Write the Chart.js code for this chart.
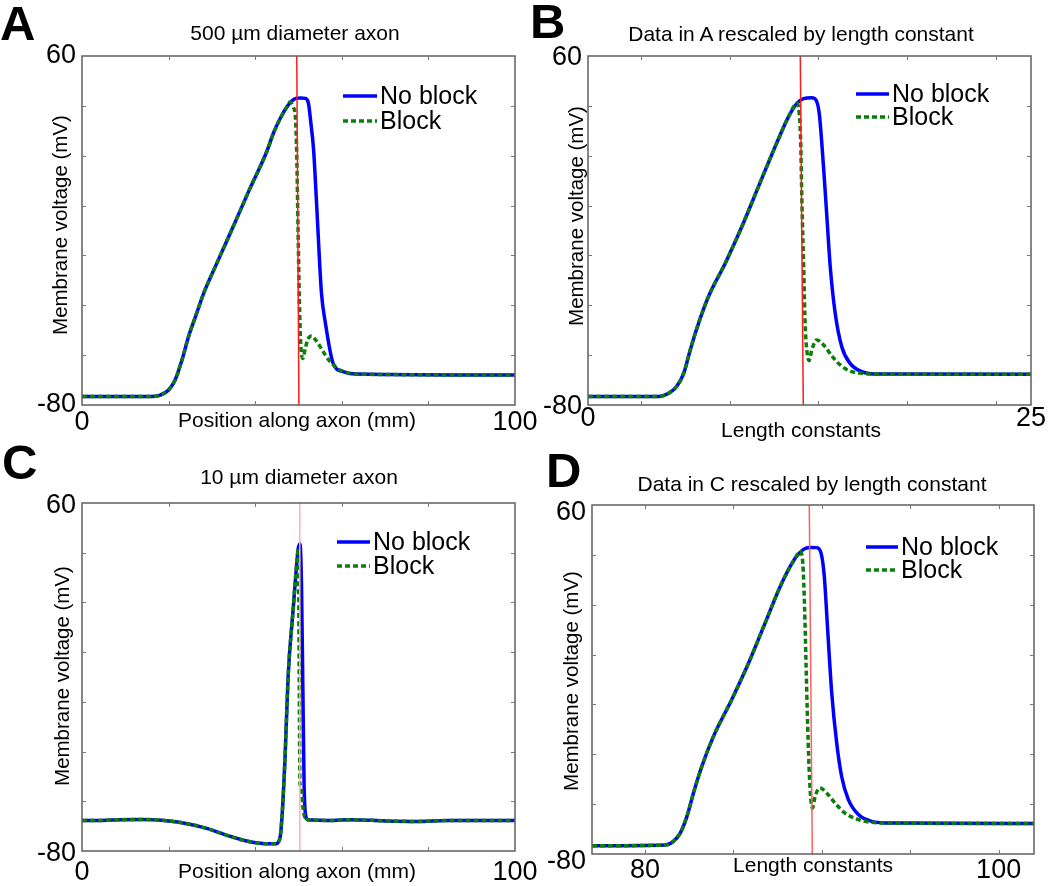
<!DOCTYPE html>
<html>
<head>
<meta charset="utf-8">
<script src="https://cdn.jsdelivr.net/npm/chart.js@4.4.0/dist/chart.umd.min.js"></script>
<style>
  body { margin: 0; background: #fff; }
  #wrap { position: relative; width: 1050px; height: 886px; overflow: hidden; font-family: "Liberation Sans", Arial, sans-serif; }
  #wrap canvas { position: absolute; left: 0; top: 0; }
  .t { position: absolute; white-space: nowrap; font-size: 21px; line-height: 21px; color: #000; }
  .c { transform: translateX(-50%); }
  .r { transform: translate(-50%, -50%) rotate(-90deg); font-size: 20.5px; }
  .p { position: absolute; font-weight: bold; font-size: 49px; line-height: 49px; color: #000; }
</style>
</head>
<body>
<div id="wrap">
  <canvas id="chartA" width="1050" height="886"></canvas>
  <canvas id="chartB" width="1050" height="886"></canvas>
  <canvas id="chartC" width="1050" height="886"></canvas>
  <canvas id="chartD" width="1050" height="886"></canvas>

  <div class="p" style="left:0px;top:-1px;">A</div>
  <div class="p" style="left:530px;top:-3px;">B</div>
  <div class="p" style="left:2px;top:438px;">C</div>
  <div class="p" style="left:546px;top:446px;">D</div>

  <div class="t c" style="left:295px;top:22px;">500 µm diameter axon</div>
  <div class="t c" style="left:801px;top:23px;">Data in A rescaled by length constant</div>
  <div class="t c" style="left:299px;top:466px;">10 µm diameter axon</div>
  <div class="t c" style="left:812px;top:473px;">Data in C rescaled by length constant</div>

  <div class="t c" style="left:297px;top:409px;">Position along axon (mm)</div>
  <div class="t c" style="left:801px;top:419px;">Length constants</div>
  <div class="t c" style="left:297px;top:860px;">Position along axon (mm)</div>
  <div class="t c" style="left:813px;top:854px;">Length constants</div>

  <div class="t r" style="left:59px;top:225px;">Membrane voltage (mV)</div>
  <div class="t r" style="left:575px;top:216px;">Membrane voltage (mV)</div>
  <div class="t r" style="left:61px;top:676px;">Membrane voltage (mV)</div>
  <div class="t r" style="left:570px;top:681px;">Membrane voltage (mV)</div>
</div>

<script>
// y axis is shared by all four panels
const yTicks = [-80, -60, -40, -20, 0, 20, 40, 60];
const yTickLabels = ['-80', '', '', '', '', '', '', '60'];

// A - 500 um axon, position along axon (mm)
const xA_noBlock = [0, 15.8, 18.1, 20, 21.5, 23.1, 24.6, 26.2, 28.1, 31.2, 35, 38.8, 42.7, 44.2, 45.8, 47.3, 48.5, 49.4, 50.5, 51.6, 52.3, 52.8, 53.5, 54.2, 55.3, 56.2, 58.0, 60.3, 63.4, 100];
const vA_noBlock = [-76.6, -76.6, -76.0, -74.0, -70.0, -61.9, -52.6, -44.6, -35.2, -22.9, -8.1, 6.9, 21.8, 29.0, 35.0, 39.5, 42.0, 43.0, 43.2, 43.0, 41.0, 34.0, 22.0, 0.0, -35.0, -47.0, -63.3, -66.6, -67.6, -68.0];
const xA_block = [48.0, 48.8, 49.3, 49.6, 49.9, 50.2, 50.5, 51.0, 51.6, 52.2, 53.0, 54.0, 55.0, 56.2, 57.3, 59.6, 61.9];
const vA_block = [41.5, 39.5, 35, 20, -10, -38, -55, -61.3, -57, -53.5, -52.3, -54.0, -56.6, -60, -62.6, -66, -67.3];
const xA_ticks = [0, 20, 40, 60, 80, 100];
const xA_tickLabels = ['0', '', '', '', '', '100'];
const xA_marker = [49.6, 50.1];
const vA_marker = [60, -80];

// B - same data, length constants
const xB_noBlock = [0, 3.98, 4.55, 5.0, 5.4, 5.77, 6.24, 6.8, 7.74, 8.68, 9.62, 10.56, 11.32, 11.79, 12.16, 12.63, 12.86, 13.05, 13.29, 13.48, 13.67, 13.95, 14.32, 14.79, 15.45, 16.39, 25];
const vB_noBlock = [-76.6, -76.6, -75.3, -72.6, -67.3, -57.9, -47.2, -36.5, -23.2, -8.5, 7.6, 23.6, 35.7, 41.0, 42.9, 43.3, 42.4, 37.0, 15.6, -4.4, -24.5, -43.2, -56.6, -63.3, -66.6, -67.6, -67.7];
const xB_block = [11.79, 11.92, 12.0, 12.07, 12.17, 12.26, 12.37, 12.48, 12.63, 12.91, 13.38, 13.76, 14.23, 14.79, 15.45];
const vB_block = [41, 37, 26.3, 2.2, -24.5, -48.6, -59.3, -62.2, -57.9, -53.9, -56.6, -60.3, -63.9, -66.4, -67.3];
const xB_ticks = [0, 3, 8, 13, 18, 23, 25];
const xB_tickLabels = ['0', '', '', '', '', '', '25'];
const xB_marker = [11.98, 12.15];
const vB_marker = [60, -80];

// C - 10 um axon, position along axon (mm)
const xC_noBlock = [0, 4, 9, 14, 20, 24, 29, 33.5, 38, 42.7, 44.8, 45.3, 45.8, 46.2, 46.9, 47.6, 48.8, 49.6, 49.95, 50.35, 50.7, 51.0, 51.3, 51.7, 52.1, 58, 62, 70, 77, 85, 100];
const vC_noBlock = [-67.7, -67.7, -67.4, -67.3, -67.9, -68.9, -71.0, -73.7, -76.0, -77.1, -77.1, -76.5, -74, -66, -42, -10, 18, 35.8, 41.8, 43.5, 26.4, -13.8, -54, -66.1, -67.4, -67.7, -67.4, -67.9, -68.1, -67.7, -67.7];
const xC_block = [49.95, 50.05, 50.15, 50.25, 50.35, 50.6, 51.0, 51.5];
const vC_block = [41.8, 25, -5, -35, -53, -54, -62, -66.5];
const xC_ticks = [0, 20, 40, 60, 80, 100];
const xC_tickLabels = ['0', '', '', '', '', '100'];
const xC_marker = [50.3, 50.3];
const vC_marker = [60, -80];

// D - data in C, length constants
const xD_noBlock = [77, 81.14, 81.6, 81.99, 82.37, 82.74, 83.21, 83.87, 84.9, 85.85, 86.79, 87.73, 88.49, 88.96, 89.33, 89.71, 89.96, 90.14, 90.33, 90.56, 90.84, 91.12, 91.5, 92.07, 92.82, 93.95, 102];
const vD_noBlock = [-76.7, -76.4, -74.9, -71.6, -64.9, -55.5, -44.9, -32.8, -18.1, -3.5, 12.6, 28.6, 38.6, 42.2, 43.0, 42.9, 40.6, 31.3, 9.9, -15.5, -35.5, -48.9, -58.2, -64.2, -66.9, -67.6, -67.8];
const xD_block = [88.77, 88.9, 89.0, 89.1, 89.2, 89.3, 89.4, 89.47, 89.62, 89.9, 90.27, 90.75, 91.31, 92.07, 92.82];
const vD_block = [41.3, 38.6, 24.6, -2.1, -28.8, -48.9, -59.6, -61.6, -56.9, -53.5, -55.5, -59.6, -63.6, -66.2, -67.3];
const xD_ticks = [77, 80, 85, 90, 95, 100, 102];
const xD_tickLabels = ['', '80', '', '', '', '100', ''];
const xD_marker = [89.29, 89.46];
const vD_marker = [60, -80];

const FONT = '"Liberation Sans", Arial, sans-serif';

function toPoints(xs, vs) {
  return xs.map((x, i) => ({ x: x, y: vs[i] }));
}

// block trace = no-block trace outside the block segment
function withBlock(xs, vs, bx, bv) {
  const first = bx[0], last = bx[bx.length - 1];
  const pts = [];
  xs.forEach((x, i) => { if (x < first) pts.push({ x: x, y: vs[i] }); });
  bx.forEach((x, i) => pts.push({ x: x, y: bv[i] }));
  xs.forEach((x, i) => { if (x > last) pts.push({ x: x, y: vs[i] }); });
  return pts;
}

// matlab style box with inward ticks
const framePlugin = {
  id: 'frame',
  afterDatasetsDraw(chart) {
    const { ctx, chartArea: a } = chart;
    const xs = chart.scales.x, ys = chart.scales.y;
    ctx.save();
    ctx.strokeStyle = '#5f5f5f';
    ctx.lineWidth = 1.5;
    ctx.strokeRect(a.left, a.top, a.right - a.left, a.bottom - a.top);
    ctx.lineWidth = 1;
    ctx.strokeStyle = '#777';
    ctx.beginPath();
    xs.ticks.forEach(t => {
      if (t.value <= xs.min || t.value >= xs.max) return;
      const px = Math.round(xs.getPixelForValue(t.value)) + 0.5;
      ctx.moveTo(px, a.bottom); ctx.lineTo(px, a.bottom - 4);
      ctx.moveTo(px, a.top); ctx.lineTo(px, a.top + 4);
    });
    ys.ticks.forEach(t => {
      if (t.value <= ys.min || t.value >= ys.max) return;
      const py = Math.round(ys.getPixelForValue(t.value)) + 0.5;
      ctx.moveTo(a.left, py); ctx.lineTo(a.left + 4, py);
      ctx.moveTo(a.right, py); ctx.lineTo(a.right - 4, py);
    });
    ctx.stroke();
    ctx.restore();
  }
};

const legendPlugin = {
  id: 'panelLegend',
  afterDraw(chart, args, o) {
    const ctx = chart.ctx;
    const blue = chart.data.datasets[2], green = chart.data.datasets[1];
    ctx.save();
    ctx.lineWidth = 3.5;
    ctx.strokeStyle = blue.borderColor;
    ctx.beginPath(); ctx.moveTo(o.x, o.y); ctx.lineTo(o.x + o.len, o.y); ctx.stroke();
    ctx.strokeStyle = green.borderColor;
    ctx.setLineDash(green.borderDash);
    ctx.beginPath(); ctx.moveTo(o.x, o.y + o.gap); ctx.lineTo(o.x + o.len, o.y + o.gap); ctx.stroke();
    ctx.setLineDash([]);
    ctx.fillStyle = '#000';
    ctx.font = '25px ' + FONT;
    ctx.textBaseline = 'middle';
    ctx.fillText('No block', o.x + o.len + 3, o.y + 1);
    ctx.fillText('Block', o.x + o.len + 3, o.y + o.gap + 1);
    ctx.restore();
  }
};

function makePanel(id, p) {
  const a = p.area;
  const xH = Math.min(42, 886 - a.b);
  return new Chart(document.getElementById(id), {
    type: 'line',
    data: {
      datasets: [
        { data: toPoints(p.markX, p.markV), borderColor: p.markColor, borderWidth: 1.5, pointRadius: 0, tension: 0 },
        { data: withBlock(p.x, p.v, p.bx, p.bv), borderColor: '#0b7d0b', borderWidth: 3.5, borderDash: [5, 3], pointRadius: 0, cubicInterpolationMode: 'monotone' },
        { data: toPoints(p.x, p.v), borderColor: '#0000ff', borderWidth: 3.5, pointRadius: 0, cubicInterpolationMode: 'monotone' }
      ]
    },
    options: {
      responsive: false,
      animation: false,
      events: [],
      layout: { padding: { left: a.l - 60, right: 1050 - a.r, top: a.t, bottom: 886 - a.b - xH } },
      plugins: {
        legend: { display: false },
        tooltip: { enabled: false },
        panelLegend: p.legend
      },
      scales: {
        x: {
          type: 'linear', min: p.xMin, max: p.xMax,
          grid: { display: false, drawTicks: false }, border: { display: false },
          afterBuildTicks: s => { s.ticks = p.xTicks.map(v => ({ value: v })); },
          afterFit: s => { s.height = xH; },
          ticks: {
            autoSkip: false, maxRotation: 0, padding: p.xPad, color: '#000',
            font: { family: FONT, size: 27 },
            callback: (v, i) => p.xLabels[i]
          }
        },
        y: {
          min: -80, max: 60,
          grid: { display: false, drawTicks: false }, border: { display: false },
          afterBuildTicks: s => { s.ticks = yTicks.map(v => ({ value: v })); },
          afterFit: s => { s.width = 60; },
          ticks: {
            autoSkip: false, padding: 6, color: '#000', labelOffset: p.yOff,
            font: { family: FONT, size: 27 },
            callback: (v, i) => yTickLabels[i]
          }
        }
      }
    },
    plugins: [framePlugin, legendPlugin]
  });
}

makePanel('chartA', {
  area: { l: 82, r: 515, t: 56, b: 405 },
  x: xA_noBlock, v: vA_noBlock, bx: xA_block, bv: vA_block,
  markX: xA_marker, markV: vA_marker, markColor: '#ff1a1a',
  xMin: 0, xMax: 100, xTicks: xA_ticks, xLabels: xA_tickLabels, xPad: 1, yOff: 0,
  legend: { x: 343, y: 96, len: 34, gap: 25 }
});
makePanel('chartB', {
  area: { l: 588, r: 1031, t: 56, b: 405 },
  x: xB_noBlock, v: vB_noBlock, bx: xB_block, bv: vB_block,
  markX: xB_marker, markV: vB_marker, markColor: '#ff1a1a',
  xMin: 0, xMax: 25, xTicks: xB_ticks, xLabels: xB_tickLabels, xPad: -3, yOff: 2,
  legend: { x: 856, y: 94, len: 33, gap: 23 }
});
makePanel('chartC', {
  area: { l: 82, r: 515, t: 503, b: 851 },
  x: xC_noBlock, v: vC_noBlock, bx: xC_block, bv: vC_block,
  markX: xC_marker, markV: vC_marker, markColor: '#ffb0b0',
  xMin: 0, xMax: 100, xTicks: xC_ticks, xLabels: xC_tickLabels, xPad: 5, yOff: 3,
  legend: { x: 337, y: 542, len: 33, gap: 24 }
});
makePanel('chartD', {
  area: { l: 592, r: 1034, t: 505, b: 854 },
  x: xD_noBlock, v: vD_noBlock, bx: xD_block, bv: vD_block,
  markX: xD_marker, markV: vD_marker, markColor: '#ff6060',
  xMin: 77, xMax: 102, xTicks: xD_ticks, xLabels: xD_tickLabels, xPad: 0, yOff: 8,
  legend: { x: 866, y: 547, len: 32, gap: 23 }
});
</script>
</body>
</html>
